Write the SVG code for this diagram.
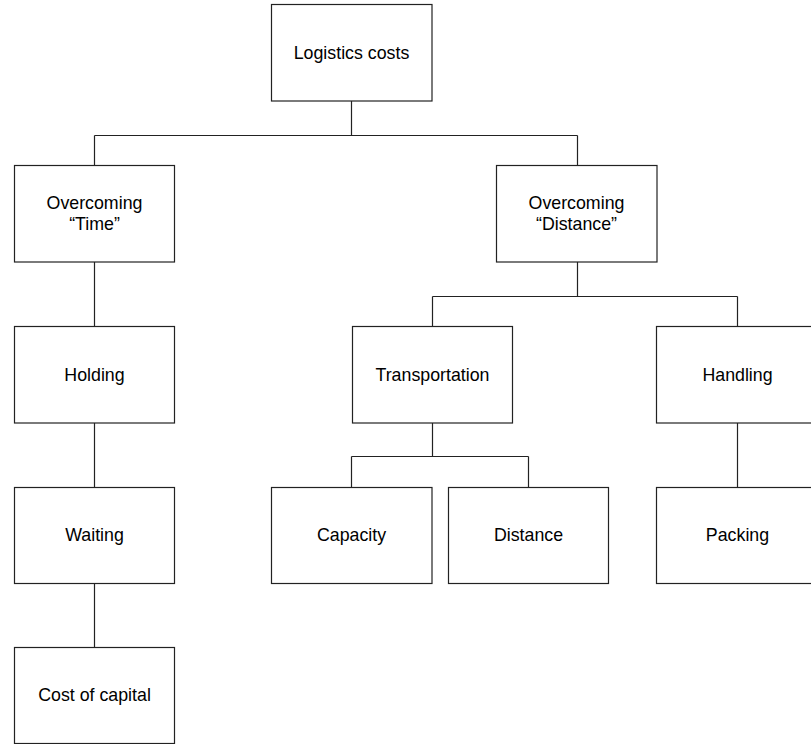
<svg xmlns="http://www.w3.org/2000/svg" width="811" height="744" viewBox="0 0 811 744">
<style>
.box{fill:#fff;stroke:#222;stroke-width:1.2}
.lbl{font-family:"Liberation Sans",Arial,sans-serif;font-size:17.8px;fill:#000;text-anchor:middle}
.conn{fill:none;stroke:#222;stroke-width:1.2}
</style>
<rect width="811" height="744" fill="#fff"/>
<g id="connectors">
<path class="conn" d="M351.5,101 V135.5 M94.5,135.5 H577.5 M94.5,135.5 V165 M577.5,135.5 V165"/>
<path class="conn" d="M94.5,262 V326 M94.5,423 V487 M94.5,583 V647"/>
<path class="conn" d="M577.5,262 V296.5 M432.5,296.5 H737.5 M432.5,296.5 V326 M737.5,296.5 V326"/>
<path class="conn" d="M432.5,423 V456.5 M351.5,456.5 H528.5 M351.5,456.5 V487 M528.5,456.5 V487"/>
<path class="conn" d="M737.5,423 V487"/>
</g>
<g id="logistics-costs"><rect class="box" x="271.5" y="4.5" width="160.5" height="96.5"/><text class="lbl" x="351.5" y="58.5">Logistics costs</text></g>
<g id="overcoming-time"><rect class="box" x="14.5" y="165.5" width="160" height="96.5"/><text class="lbl" x="94.5" y="209">Overcoming</text><text class="lbl" x="94.5" y="230">“Time”</text></g>
<g id="overcoming-distance"><rect class="box" x="496.5" y="165.5" width="160.5" height="96.5"/><text class="lbl" x="576.5" y="209">Overcoming</text><text class="lbl" x="576.5" y="230">“Distance”</text></g>
<g id="holding"><rect class="box" x="14.5" y="326.5" width="160" height="96.5"/><text class="lbl" x="94.5" y="380.5">Holding</text></g>
<g id="transportation"><rect class="box" x="352.5" y="326.5" width="160" height="96.5"/><text class="lbl" x="432.5" y="380.5">Transportation</text></g>
<g id="handling"><rect class="box" x="656.5" y="326.5" width="161" height="96.5"/><text class="lbl" x="737.5" y="380.5">Handling</text></g>
<g id="waiting"><rect class="box" x="14.5" y="487.5" width="160" height="96"/><text class="lbl" x="94.5" y="541">Waiting</text></g>
<g id="capacity"><rect class="box" x="271.5" y="487.5" width="160.5" height="96"/><text class="lbl" x="351.5" y="541">Capacity</text></g>
<g id="distance"><rect class="box" x="448.5" y="487.5" width="160" height="96"/><text class="lbl" x="528.5" y="541">Distance</text></g>
<g id="packing"><rect class="box" x="656.5" y="487.5" width="161" height="96"/><text class="lbl" x="737.5" y="541">Packing</text></g>
<g id="cost-of-capital"><rect class="box" x="14.5" y="647.5" width="160" height="96"/><text class="lbl" x="94.5" y="701">Cost of capital</text></g>
</svg>
